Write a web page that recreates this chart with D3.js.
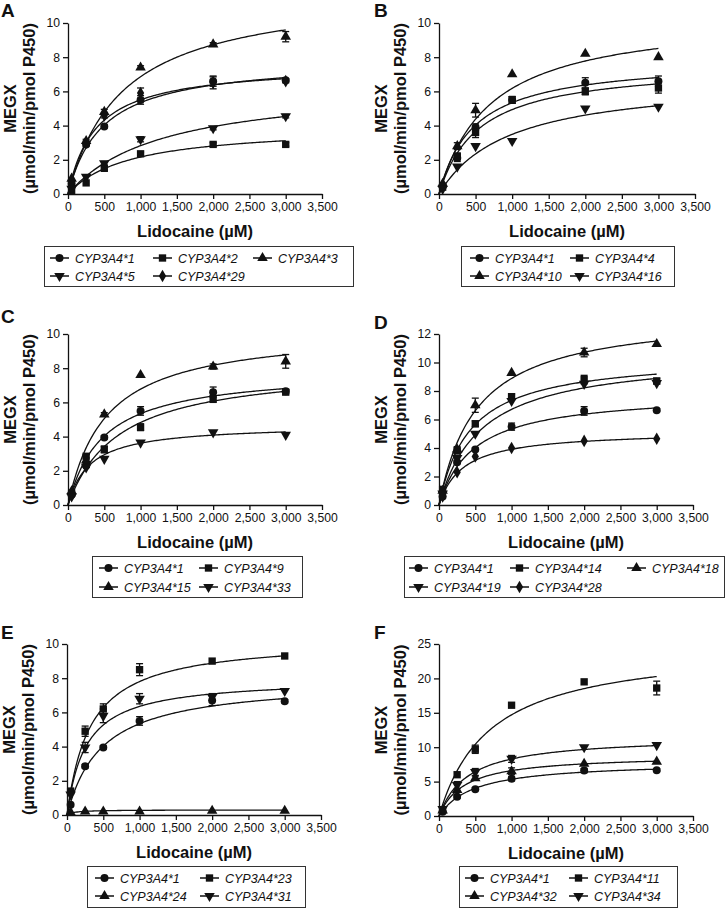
<!DOCTYPE html>
<html><head><meta charset="utf-8">
<script src="https://cdn.jsdelivr.net/npm/d3@7"></script>
<style>
body{margin:0;background:#fff}
text{font-family:Arial,"Liberation Sans",sans-serif;fill:#111}
</style>
</head><body><svg id="c" width="725" height="909"></svg>
<script>
// ---------------- DATA ----------------
const concentrations = [50, 250, 500, 1000, 2000, 3000];
const xTickValues = [0, 500, 1000, 1500, 2000, 2500, 3000, 3500];
const xTitle = "Lidocaine (µM)";
const yTitle1 = "MEGX";
const yTitle2 = "(µmol/min/pmol P450)";

// Panel A
const namesA = ["CYP3A4*1", "CYP3A4*2", "CYP3A4*3", "CYP3A4*5", "CYP3A4*29"];
const shapesA = ["circle", "square", "triangle", "triangleDown", "diamond"];
const valuesA = [
  [0.6, 2.9, 3.95, 5.5, 6.6, 6.65],
  [0.2, 0.65, 1.5, 2.35, 2.9, 2.9],
  [0.9, 3.1, 4.8, 7.4, 8.75, 9.2],
  [0.3, 1.0, 1.8, 3.2, 3.85, 4.55],
  [0.7, 3.0, 4.6, 5.9, 6.5, 6.6]
];
const errorsA = [
  [0, 0.1, 0.1, 0.25, 0.3, 0.1],
  [0, 0, 0.1, 0.1, 0.1, 0.1],
  [0, 0.1, 0.15, 0.1, 0.1, 0.3],
  [0, 0, 0.1, 0.15, 0.1, 0.1],
  [0, 0.1, 0.15, 0.3, 0.35, 0.1]
];
const vmaxA = [7.9, 4.0, 12, 6.5, 7.6];
const kmA = [480, 850, 750, 1300, 380];
const yTicksA = [0, 2, 4, 6, 8, 10];

// Panel B
const namesB = ["CYP3A4*1", "CYP3A4*4", "CYP3A4*10", "CYP3A4*16"];
const shapesB = ["circle", "square", "triangle", "triangleDown"];
const valuesB = [
  [0.5, 2.1, 3.9, 5.5, 6.5, 6.6],
  [0.4, 2.2, 3.6, 5.5, 6.0, 6.2],
  [0.6, 2.8, 4.9, 7.0, 8.2, 8.0],
  [0.3, 1.6, 2.8, 3.1, 5.0, 5.1]
];
const errorsB = [
  [0, 0.2, 0.2, 0.2, 0.3, 0.3],
  [0, 0.2, 0.3, 0.2, 0.2, 0.3],
  [0, 0.2, 0.4, 0, 0, 0],
  [0, 0, 0, 0, 0, 0]
];
const vmaxB = [7.9, 7.6, 10.5, 6.8];
const kmB = [480, 540, 700, 950];
const yTicksB = [0, 2, 4, 6, 8, 10];

// Panel C
const namesC = ["CYP3A4*1", "CYP3A4*9", "CYP3A4*15", "CYP3A4*33"];
const shapesC = ["circle", "square", "triangle", "triangleDown"];
const valuesC = [
  [0.6, 2.3, 3.95, 5.5, 6.6, 6.65],
  [0.7, 2.85, 3.25, 4.55, 6.2, 6.6],
  [0.8, 2.6, 5.3, 7.6, 8.1, 8.4],
  [0.5, 2.2, 2.7, 3.65, 4.25, 4.1]
];
const errorsC = [
  [0, 0.1, 0.1, 0.25, 0.3, 0.1],
  [0, 0.1, 0.2, 0.2, 0.2, 0.1],
  [0, 0, 0.1, 0, 0.15, 0.4],
  [0, 0, 0, 0, 0, 0]
];
const vmaxC = [7.9, 8.2, 10.3, 4.7];
const kmC = [480, 700, 520, 300];
const yTicksC = [0, 2, 4, 6, 8, 10];

// Panel D
const namesD = ["CYP3A4*1", "CYP3A4*14", "CYP3A4*18", "CYP3A4*19", "CYP3A4*28"];
const shapesD = ["circle", "square", "triangle", "triangleDown", "diamond"];
const valuesD = [
  [0.6, 3.0, 3.9, 5.5, 6.6, 6.65],
  [1.1, 3.8, 5.7, 7.6, 8.8, 8.7],
  [1.0, 3.9, 7.0, 9.27, 10.7, 11.3],
  [0.8, 3.3, 5.0, 7.3, 8.5, 8.55],
  [0.6, 2.3, 3.4, 4.0, 4.5, 4.65]
];
const errorsD = [
  [0, 0.1, 0.1, 0.25, 0.3, 0.1],
  [0, 0.2, 0.2, 0.2, 0.3, 0.2],
  [0, 0.2, 0.5, 0, 0.3, 0],
  [0, 0, 0, 0, 0, 0],
  [0, 0, 0, 0, 0, 0]
];
const vmaxD = [7.9, 10.5, 13.5, 10.6, 5.2];
const kmD = [480, 430, 520, 580, 330];
const yTicksD = [0, 2, 4, 6, 8, 10, 12];

// Panel E
const namesE = ["CYP3A4*1", "CYP3A4*23", "CYP3A4*24", "CYP3A4*31"];
const shapesE = ["circle", "square", "triangle", "triangleDown"];
const valuesE = [
  [0.6, 2.85, 3.95, 5.5, 6.7, 6.65],
  [1.4, 4.9, 6.2, 8.5, 9.0, 9.3],
  [0.15, 0.2, 0.2, 0.2, 0.25, 0.25],
  [1.2, 3.95, 5.8, 6.8, 6.9, 7.25]
];
const errorsE = [
  [0, 0.1, 0.1, 0.25, 0.3, 0.1],
  [0, 0.3, 0.3, 0.35, 0, 0],
  [0, 0, 0, 0, 0, 0],
  [0, 0.3, 0.4, 0.3, 0.2, 0]
];
const vmaxE = [7.9, 10.3, 0.3, 8.0];
const kmE = [480, 320, 100, 260];
const yTicksE = [0, 2, 4, 6, 8, 10];

// Panel F
const namesF = ["CYP3A4*1", "CYP3A4*11", "CYP3A4*32", "CYP3A4*34"];
const shapesF = ["circle", "square", "triangle", "triangleDown"];
const valuesF = [
  [0.6, 2.8, 3.9, 5.4, 6.6, 6.65],
  [0.8, 6.0, 9.7, 16.1, 19.5, 18.6],
  [0.8, 3.8, 5.5, 6.5, 7.6, 7.9],
  [1.0, 4.5, 6.4, 8.3, 10.0, 10.3]
];
const errorsF = [
  [0, 0.2, 0.2, 0.3, 0.3, 0.2],
  [0, 0, 0.6, 0, 0, 1.0],
  [0, 0, 0.3, 0.5, 0, 0],
  [0, 0.5, 0.5, 0.5, 0, 0]
];
const vmaxF = [7.9, 25, 8.9, 11.6];
const kmF = [480, 700, 350, 400];
const yTicksF = [0, 5, 10, 15, 20, 25];

// ---------------- LAYOUT ----------------
const panels = [
  {label:"A", names:namesA, shapes:shapesA, values:valuesA, errors:errorsA, vmax:vmaxA, km:kmA, yTicks:yTicksA,
   x0:68, x1:322, yTop:23, yBot:194, labelPos:[1,17],
   legend:{box:[44,246,309,40], cols:[50,153,253], rows:[258,276], ncol:3}},
  {label:"B", names:namesB, shapes:shapesB, values:valuesB, errors:errorsB, vmax:vmaxB, km:kmB, yTicks:yTicksB,
   x0:439, x1:695, yTop:23, yBot:194, labelPos:[374,17],
   legend:{box:[461,246,213,40], cols:[470,570], rows:[258,276], ncol:2}},
  {label:"C", names:namesC, shapes:shapesC, values:valuesC, errors:errorsC, vmax:vmaxC, km:kmC, yTicks:yTicksC,
   x0:68, x1:322, yTop:334, yBot:505, labelPos:[1,323],
   legend:{box:[92,556,210,41], cols:[99,199], rows:[568,587], ncol:2}},
  {label:"D", names:namesD, shapes:shapesD, values:valuesD, errors:errorsD, vmax:vmaxD, km:kmD, yTicks:yTicksD,
   x0:439, x1:693, yTop:334, yBot:505, labelPos:[374,329],
   legend:{box:[404,556,320,41], cols:[409,510,627], rows:[568,587], ncol:3}},
  {label:"E", names:namesE, shapes:shapesE, values:valuesE, errors:errorsE, vmax:vmaxE, km:kmE, yTicks:yTicksE,
   x0:67, x1:321, yTop:644, yBot:815, labelPos:[1,639],
   legend:{box:[87,866,218,41], cols:[95,200], rows:[878,896], ncol:2}},
  {label:"F", names:namesF, shapes:shapesF, values:valuesF, errors:errorsF, vmax:vmaxF, km:kmF, yTicks:yTicksF,
   x0:439, x1:693, yTop:644, yBot:816, labelPos:[374,639],
   legend:{box:[459,866,218,41], cols:[465,569], rows:[878,896], ncol:2}}
];

const svg = d3.select("#c");
const symbolTypes = {
  circle: d3.symbolCircle, square: d3.symbolSquare, triangle: d3.symbolTriangle,
  triangleDown: d3.symbolTriangle, diamond: d3.symbolDiamond
};
const symbolSizes = {circle: 50, square: 54, triangle: 48, triangleDown: 48, diamond: 46};
function drawMarker(g, shape, cx, cy) {
  const p = g.append("path")
    .attr("d", d3.symbol().type(symbolTypes[shape]).size(symbolSizes[shape])())
    .attr("fill", "#111");
  if (shape === "triangleDown") p.attr("transform", `translate(${cx},${cy}) rotate(180)`);
  else p.attr("transform", `translate(${cx},${cy})`);
}

const curveX = d3.range(0, 3001, 20);

panels.forEach(P => {
  const g = svg.append("g");
  const x = d3.scaleLinear().domain([0, 3500]).range([P.x0, P.x1]);
  const ymax = P.yTicks[P.yTicks.length - 1];
  const y = d3.scaleLinear().domain([0, ymax]).range([P.yBot, P.yTop]);

  const xAxis = g.append("g").attr("transform", `translate(0,${P.yBot})`)
    .call(d3.axisBottom(x).tickValues(xTickValues).tickSize(5).tickSizeOuter(0).tickFormat(d3.format(",")));
  const yAxis = g.append("g").attr("transform", `translate(${P.x0},0)`)
    .call(d3.axisLeft(y).tickValues(P.yTicks).tickSize(5).tickSizeOuter(0));
  [xAxis, yAxis].forEach(a => {
    a.select(".domain").attr("stroke", "#111").attr("stroke-width", 1.3);
    a.selectAll(".tick line").attr("stroke", "#111").attr("stroke-width", 1.3);
    a.selectAll(".tick text").attr("font-size", 12.2).attr("fill", "#111")
      .attr("font-family", "Arial, 'Liberation Sans', sans-serif");
  });
  xAxis.selectAll(".tick text").attr("dy", "0.85em").attr("y", 7);
  yAxis.selectAll(".tick text").attr("x", -8);

  const cx = (P.x0 + P.x1) / 2, cy = (P.yTop + P.yBot) / 2;
  g.append("text").attr("x", cx).attr("y", P.yBot + 43).attr("text-anchor", "middle")
    .attr("font-size", 16.5).attr("font-weight", "bold").text(xTitle);
  g.append("text").attr("transform", `translate(${P.x0 - 52},${cy}) rotate(-90)`)
    .attr("text-anchor", "middle").attr("font-size", 16.5).attr("font-weight", "bold").text(yTitle1);
  g.append("text").attr("transform", `translate(${P.x0 - 33},${cy}) rotate(-90)`)
    .attr("text-anchor", "middle").attr("font-size", 16.5).attr("font-weight", "bold").text(yTitle2);
  g.append("text").attr("x", P.labelPos[0]).attr("y", P.labelPos[1])
    .attr("font-size", 19).attr("font-weight", "bold").text(P.label);

  const line = d3.line().x(d => x(d[0])).y(d => y(d[1]));
  P.names.forEach((name, i) => {
    const pts = curveX.map(c => [c, P.vmax[i] * c / (P.km[i] + c)]);
    g.append("path").datum(pts).attr("d", line).attr("fill", "none")
      .attr("stroke", "#111").attr("stroke-width", 1.3);
  });
  P.names.forEach((name, i) => {
    concentrations.forEach((c, j) => {
      const v = P.values[i][j], e = P.errors[i][j];
      if (e > 0) {
        const xx = x(c);
        g.append("line").attr("x1", xx).attr("x2", xx).attr("y1", y(v - e)).attr("y2", y(v + e))
          .attr("stroke", "#111").attr("stroke-width", 1.3);
        [v - e, v + e].forEach(vv => g.append("line").attr("x1", xx - 3.5).attr("x2", xx + 3.5)
          .attr("y1", y(vv)).attr("y2", y(vv)).attr("stroke", "#111").attr("stroke-width", 1.3));
      }
      drawMarker(g, P.shapes[i], x(c), y(v));
    });
  });

  const L = P.legend;
  g.append("rect").attr("x", L.box[0] + 0.5).attr("y", L.box[1] + 0.5)
    .attr("width", L.box[2]).attr("height", L.box[3])
    .attr("fill", "none").attr("stroke", "#333").attr("stroke-width", 1);
  P.names.forEach((name, i) => {
    const col = i % L.ncol, row = Math.floor(i / L.ncol);
    const lx = L.cols[col], ly = L.rows[row];
    g.append("line").attr("x1", lx).attr("x2", lx + 19).attr("y1", ly).attr("y2", ly)
      .attr("stroke", "#111").attr("stroke-width", 1.5);
    drawMarker(g, P.shapes[i], lx + 9.5, ly);
    g.append("text").attr("x", lx + 25).attr("y", ly).attr("dy", "0.36em")
      .attr("font-size", 12.5).attr("font-style", "italic").text(name);
  });
});
</script>
</body></html>
